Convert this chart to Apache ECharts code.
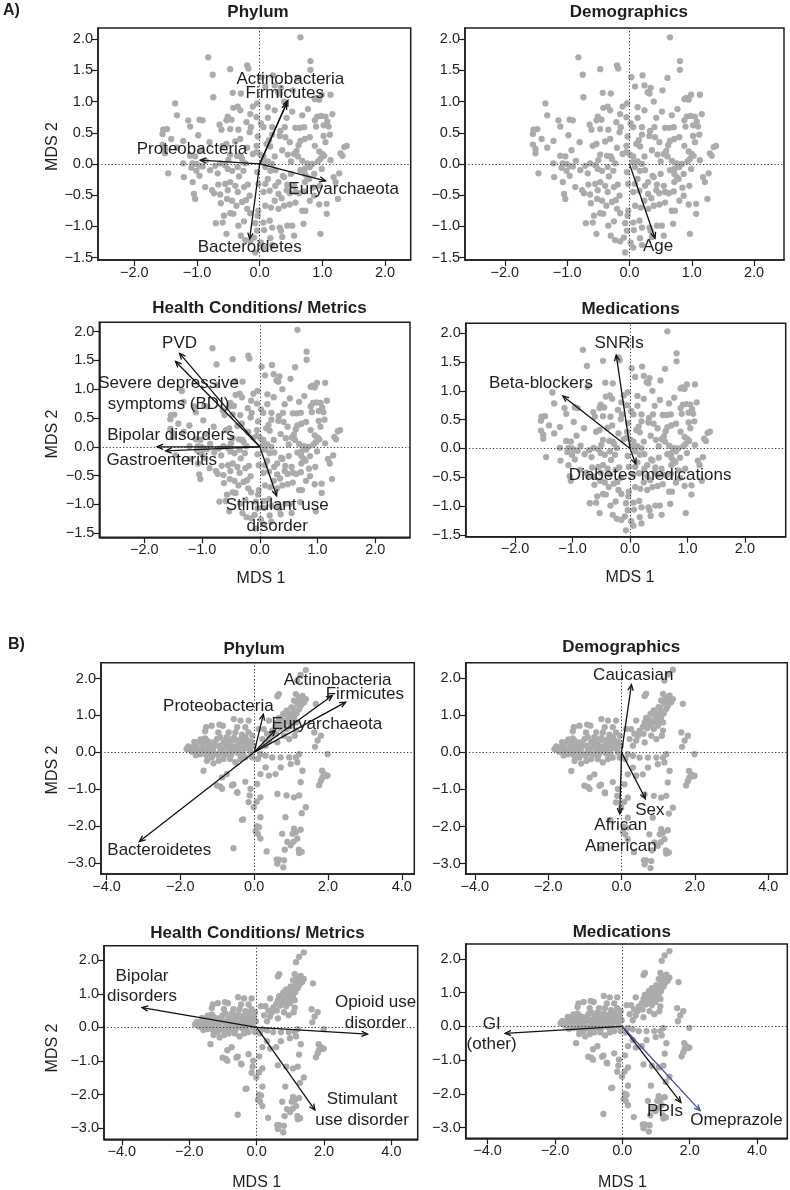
<!DOCTYPE html>
<html><head><meta charset="utf-8">
<script src="https://cdn.jsdelivr.net/npm/echarts@6/dist/echarts.min.js"></script>
<style>html,body{margin:0;padding:0;background:#fff}#c{width:790px;height:1190px}</style>
</head><body><div id="c"></div>
<script>
// ---------------- DATA ----------------
// Sample coordinates, group A (same points in all A panels)
const pointsA = [
[0.65,2.03],[-0.82,1.71],[0.81,1.65],[-0.20,1.58],[-0.18,1.53],[-0.47,1.52],[0.81,1.51],
[-0.75,1.43],[0.03,1.39],[0.21,1.42],[0.61,1.38],
[0.09,1.24],[0.24,1.26],[0.34,1.22],[0.29,1.15],[0.32,1.13],[0.53,1.18],[0.39,1.0],
[-0.43,1.14],[-0.30,1.13],[-0.74,1.07],[0.88,1.04],[0.99,1.11],[0.91,1.06],[1.13,1.11],[0.95,1.03],
[-1.35,0.97],[-0.04,0.97],[-0.11,0.92],[-0.42,0.90],[-0.35,0.92],[-0.31,0.86],[0.13,0.91],[0.77,0.88],[0.24,0.86],[0.52,0.84],
[-1.32,0.78],[-0.51,0.76],[-0.15,0.80],[-0.05,0.75],[0.43,0.74],[0.13,0.74],[0.92,0.76],[0.98,0.77],[1.05,0.76],[1.16,0.80],[0.68,0.78],
[-1.14,0.70],[-0.96,0.71],[-0.91,0.70],[-1.11,0.60],[-0.53,0.70],[-0.45,0.71],[-0.64,0.63],[-0.21,0.67],[-0.14,0.59],[-0.34,0.55],[0.02,0.65],[0.06,0.59],[0.20,0.59],[0.33,0.53],[0.40,0.59],[0.57,0.58],[0.64,0.58],[0.71,0.59],[0.88,0.70],[0.90,0.60],[1.02,0.62],[1.08,0.68],[1.10,0.60],
[-1.54,0.55],[-1.48,0.56],[-1.55,0.48],[-0.61,0.55],[-0.47,0.56],[-0.16,0.51],[-0.03,0.44],[0.20,0.47],[0.32,0.45],[0.41,0.43],[0.80,0.43],[1.02,0.45],[1.12,0.47],[-1.41,0.40],[-1.22,0.37],[-0.31,0.40],[-0.39,0.36],[0.65,0.37],[0.72,0.40],
[-1.55,0.31],[-1.51,0.24],[-1.32,0.26],[-0.80,0.35],[-0.59,0.29],[-0.53,0.32],[-0.20,0.26],[0.11,0.32],[0.48,0.35],[0.59,0.21],[0.88,0.29],[1.39,0.29],[1.35,0.27],[-0.05,0.29],[0.17,0.28],
[-1.51,0.17],[-0.93,0.22],[-1.11,0.13],[-1.03,0.12],[-0.47,0.15],[-0.36,0.13],[-0.30,0.12],[-0.11,0.16],[-0.05,0.19],[0.01,0.15],[0.06,0.12],[0.24,0.12],[0.36,0.22],[0.45,0.15],[0.55,0.16],[0.61,0.12],[0.95,0.20],[1.00,0.16],[1.03,0.13],[1.32,0.13],[1.29,0.17],
[-1.22,0.01],[-1.07,0.01],[-1.01,0.0],[-0.96,-0.03],[-0.91,-0.04],[-0.71,-0.03],[-0.63,0.01],[-0.50,0.06],[-0.55,-0.02],[-0.28,0.08],[-0.23,0.01],[0.05,0.03],[0.13,0.04],[0.20,0.0],[0.50,0.04],[0.68,0.05],[0.76,0.01],[0.84,0.0],[0.93,0.04],[0.97,0.08],[1.13,0.06],
[-1.46,-0.15],[-1.21,-0.21],[-1.09,-0.06],[-1.01,-0.11],[-0.96,-0.19],[-0.79,-0.10],[-0.67,-0.15],[-0.51,-0.08],[-0.44,-0.11],[-0.35,-0.05],[-0.26,-0.11],[-0.04,-0.13],[0.09,-0.05],[0.17,-0.11],[0.25,-0.10],[0.37,-0.19],[0.50,-0.16],[0.65,-0.10],[0.72,-0.08],[0.80,-0.05],[0.72,-0.16],[0.76,-0.21],[0.87,-0.16],[0.99,-0.08],[1.27,-0.15],[1.18,-0.21],
[-1.07,-0.29],[-0.87,-0.37],[-0.66,-0.33],[-0.55,-0.32],[-0.47,-0.29],[-0.39,-0.35],[-0.19,-0.33],[-0.02,-0.32],[0.09,-0.32],[0.13,-0.24],[0.25,-0.35],[0.30,-0.29],[0.39,-0.21],[0.44,-0.33],[0.55,-0.35],[0.72,-0.29],[0.79,-0.24],[0.96,-0.35],[1.21,-0.29],
[-1.05,-0.48],[-1.03,-0.56],[-0.76,-0.42],[-0.73,-0.47],[-0.63,-0.49],[-0.51,-0.42],[-0.35,-0.45],[-0.25,-0.37],[-0.16,-0.51],[0.06,-0.45],[0.16,-0.43],[0.30,-0.48],[0.43,-0.42],[0.48,-0.47],[0.57,-0.45],[0.63,-0.47],[0.71,-0.44],[0.80,-0.59],[0.87,-0.51],[1.07,-0.64],[1.25,-0.56],
[-0.52,-0.56],[-0.44,-0.59],[-0.37,-0.67],[-0.28,-0.61],[-0.47,-0.79],[-0.42,-0.80],[-0.57,-0.83],[-0.20,-0.72],[-0.15,-0.79],[-0.02,-0.75],[0.09,-0.67],[0.18,-0.70],[0.24,-0.59],[0.30,-0.72],[0.39,-0.67],[0.48,-0.65],[0.57,-0.62],[0.68,-0.75],[0.73,-0.75],[0.95,-0.65],[1.07,-0.80],
[-0.70,-0.95],[-0.59,-0.94],[-0.34,-0.99],[-0.25,-0.92],[-0.07,-0.95],[-0.03,-0.83],[0.06,-0.94],[0.16,-0.91],[0.20,-1.02],[0.32,-1.02],[0.44,-0.99],[0.52,-0.99],[0.70,-0.96],[0.07,-1.06],
[-0.53,-1.12],[-0.30,-1.15],[-0.23,-1.22],[-0.15,-1.24],[-0.09,-1.18],[-0.04,-1.07],[0.02,-1.26],[-0.07,-1.42],[0.17,-1.19],[0.34,-1.07],[0.36,-1.17],[0.55,-1.15],[0.97,-1.12],[0.06,-1.34],[0.20,-1.30],
[-0.98,0.46],[-0.86,0.05],[-0.33,-0.20],[0.35,-0.55],[0.62,0.30],[-0.62,-0.63],[0.15,0.38],[-0.22,-0.58],[0.85,-0.38],[1.05,0.35]
];
// Sample coordinates, group B
const pointsB = [
[1.40,2.23],[1.26,2.10],[1.17,1.94],
[0.67,1.58],[0.63,1.52],[1.13,1.58],[1.22,1.49],[1.31,1.53],[1.40,1.44],[1.35,1.35],[1.67,1.31],[1.08,1.40],[1.17,1.32],[1.01,1.22],[0.88,1.13],[0.95,1.04],[1.08,1.08],[1.22,1.17],[1.26,1.26],[0.79,1.04],[0.67,0.93],[0.76,0.87],[0.63,0.81],[0.85,0.81],[0.95,0.90],[1.08,0.95],[1.13,0.81],[0.72,0.72],[0.58,0.69],[0.49,0.59],[0.99,0.72],[0.88,0.63],[1.13,0.59],[1.10,0.45],[0.95,0.36],[0.81,0.45],[0.35,0.50],[0.40,0.32],[0.63,0.27],[0.31,0.18],[0.22,0.36],[0.26,0.63],[0.40,0.86],
[0.70,0.65],[0.92,0.95],[1.05,1.20],[1.20,1.35],[0.80,0.75],[1.00,0.85],[1.15,1.05],[0.60,0.50],[1.30,1.40],[0.45,0.45],
[-0.55,0.90],[-0.37,0.86],[-0.15,0.86],[0.13,0.63],[-0.24,0.68],[-0.46,0.68],[-0.85,0.72],[-0.94,0.75],[-1.15,0.72],[-1.30,0.68],[-1.33,0.57],[-0.97,0.54],[-0.69,0.54],[-0.51,0.54],[-0.33,0.48],[-0.15,0.54],[-0.05,0.45],
[1.63,0.54],[1.81,0.45],[1.72,0.32],[1.65,0.15],[1.99,-0.05],[1.90,-0.59],[1.85,-0.68],[1.99,-0.63],[1.81,-0.77],[1.76,-0.89],
[-1.83,0.09],[-1.74,0.14],[-1.65,0.05],[-1.60,0.18],[-1.51,0.27],[-1.51,0.09],[-1.46,-0.05],[-1.37,0.23],[-1.37,0.05],[-1.28,0.32],[-1.24,0.14],[-1.19,0.0],[-1.15,0.27],[-1.10,0.14],[-1.05,-0.05],[-1.01,0.36],[-0.96,0.18],[-0.92,0.05],[-0.83,0.27],[-0.78,0.14],[-0.74,-0.05],[-0.65,0.23],[-0.60,0.09],[-0.51,0.32],[-0.46,0.14],[-0.42,-0.03],[-0.33,0.27],[-0.28,0.09],[-0.19,0.32],[-0.15,0.15],[-0.10,0.0],[-0.92,0.41],[-0.74,0.41],[-0.55,0.39],[-0.37,0.36],[-0.24,0.41],
[-1.70,0.02],[-1.55,0.0],[-1.42,0.12],[-1.30,-0.08],[-1.20,0.20],[-1.12,0.05],[-0.98,-0.08],[-0.88,0.10],[-0.80,0.30],[-0.70,0.08],[-0.62,-0.06],[-0.55,0.15],[-0.40,0.22],[-0.30,-0.05],[-0.20,0.20],[-0.08,0.28],[-1.45,0.35],[-1.62,0.28],[-0.68,0.35],[-0.12,0.08],
[-1.78,0.16],[-1.58,-0.08],[-1.33,0.38],[-1.08,0.25],[-0.85,-0.02],[-0.72,0.20],[-0.48,0.02],[-0.35,0.12],[-0.02,0.18],[-1.25,0.06],
[-1.15,-0.14],[-1.28,-0.23],[-1.10,-0.30],[-1.37,-0.50],[-0.96,-0.23],[-0.83,-0.18],[-0.65,-0.18],[-0.51,-0.27],[-0.37,-0.18],[-0.24,-0.14],[-0.05,-0.14],[0.10,-0.18],[0.17,-0.05],[0.31,-0.09],[0.49,-0.14],[0.72,-0.14],[0.95,-0.14],[1.13,-0.14],[1.22,-0.05],[1.17,-0.27],[0.99,-0.32],[0.72,-0.41],[0.31,-0.41],[0.58,-0.59],[0.40,-0.63],[0.17,-0.59],
[-0.74,-0.59],[-0.87,-0.68],[-0.92,-0.93],[-0.56,-0.87],[-0.45,-1.10],[-0.24,-0.80],[-1.01,-0.90],[-0.87,-0.99],[-0.60,-0.90],[-0.46,-1.08],[-0.10,-0.99],[0.08,-0.86],[-0.12,-1.17],[-0.15,-1.35],[-0.01,-1.49],[0.17,-1.22],[0.63,-1.13],[0.88,-1.17],[1.08,-1.22],[1.22,-1.17],[1.26,-0.81],[1.31,-0.50],[1.40,-1.49],[1.29,-1.65],[0.85,-1.76],[0.17,-1.76],[0.13,-2.03],[0.10,-2.21],[0.17,-2.34],[0.76,-2.21],[1.04,-2.21],[1.17,-2.34],[0.90,-2.43],[1.08,-2.07],[0.99,-2.52],[1.22,-2.73],[1.29,-2.70],[0.67,-2.91],[0.63,-3.02],[0.81,-2.93],[1.26,-2.10],
[-0.56,-2.60],[-0.33,-1.83],[0.07,-1.34],[0.07,-2.0],[0.04,-2.15],[0.34,-2.69],[0.61,-2.91],[0.83,-2.64],[0.79,-3.12],[1.07,-2.42],[1.13,-2.17],[1.21,-2.64],[1.84,-0.50],[1.95,-0.64],[-0.30,-1.82]
];

// Arrow tips (name, MDS1, MDS2) and label anchors (text, MDS1, MDS2) per panel
const arrowsA1 = [["Actinobacteria",0.45,1.02],["Firmicutes",0.43,0.97],["Proteobacteria",-0.95,0.06],["Euryarchaeota",1.05,-0.27],["Bacteroidetes",-0.16,-1.20]];
const labelsA1 = [["Actinobacteria",0.49,1.36],["Firmicutes",0.40,1.13],["Proteobacteria",-1.08,0.23],["Euryarchaeota",1.34,-0.40],["Bacteroidetes",-0.16,-1.33]];
const arrowsA2 = [["Age",0.41,-1.19]];
const labelsA2 = [["Age",0.46,-1.32]];
const arrowsA3 = [["PVD",-1.39,1.62],["Severe depressive symptoms (BDI)",-1.46,1.48],["Bipolar disorders",-1.78,0.0],["Gastroenteritis",-1.63,-0.07],["Stimulant use disorder",0.29,-0.85]];
const labelsA3 = [["PVD",-1.39,1.80],["Severe depressive\nsymptoms (BDI)",-1.58,0.92],["Bipolar disorders",-1.54,0.20],["Gastroenteritis",-1.70,-0.23],["Stimulant use\ndisorder",0.30,-1.20]];
const arrowsA4 = [["SNRIs",-0.24,1.62],["Beta-blockers",-1.17,0.91],["Diabetes medications",0.10,-0.27]];
const labelsA4 = [["SNRIs",-0.19,1.83],["Beta-blockers",-1.55,1.13],["Diabetes medications",0.35,-0.47]];
const arrowsB1 = [["Actinobacteria",2.12,1.54],["Firmicutes",2.48,1.36],["Proteobacteria",0.25,1.03],["Euryarchaeota",0.57,0.60],["Bacteroidetes",-3.11,-2.42]];
const labelsB1 = [["Actinobacteria",2.26,1.94],["Firmicutes",3.0,1.57],["Proteobacteria",-0.97,1.26],["Euryarchaeota",1.97,0.77],["Bacteroidetes",-2.57,-2.67]];
const arrowsB2 = [["Caucasian",0.27,1.83],["Sex",0.65,-1.25],["African American",-0.05,-1.66]];
const labelsB2 = [["Caucasian",0.32,2.08],["Sex",0.77,-1.55],["African\nAmerican",-0.02,-2.25]];
const arrowsB3 = [["Bipolar disorders",-3.40,0.59],["Opioid use disorder",3.29,-0.20],["Stimulant use disorder",1.73,-2.46]];
const labelsB3 = [["Bipolar\ndisorders",-3.40,1.22],["Opioid use\ndisorder",3.53,0.44],["Stimulant\nuse disorder",3.13,-2.46]];
const arrowsB4 = [["GI (other)",-3.48,-0.21],["PPIs",1.74,-2.26],["Omeprazole",2.31,-2.50]];
const labelsB4 = [["GI\n(other)",-3.88,-0.24],["PPIs",1.27,-2.53],["Omeprazole",3.39,-2.78]];

// Tick values
const ticksAx = [-2,-1,0,1,2];
const ticksAy = [-1.5,-1,-0.5,0,0.5,1,1.5,2];
const ticksBx = [-4,-2,0,2,4];
const ticksBy = [-3,-2,-1,0,1,2];

// Panel titles
const titles = ["Phylum","Demographics","Health Conditions/ Metrics","Medications","Phylum","Demographics","Health Conditions/ Metrics","Medications"];

// ---------------- LAYOUT ----------------
const FONT = '"Liberation Sans", Arial, Helvetica, sans-serif';
const INK = '#1e1e1e';
const panels = [
  {l:98,   t:28,    r:410.7, b:260,    x:[-2.58,2.41], y:[-1.54,2.18], pts:pointsA, ar:arrowsA1, lb:labelsA1, xt:ticksAx, yt:ticksAy, tx:258,   ty:12.5},
  {l:465,  t:28,    r:784,   b:260,    x:[-2.64,2.48], y:[-1.54,2.18], pts:pointsA, ar:arrowsA2, lb:labelsA2, xt:ticksAx, yt:ticksAy, tx:628.8, ty:12.5},
  {l:99.3, t:322.3, r:410,   b:537.3,  x:[-2.78,2.60], y:[-1.57,2.16], pts:pointsA, ar:arrowsA3, lb:labelsA3, xt:ticksAx, yt:ticksAy, tx:259.5, ty:308},
  {l:465.7,t:323.3, r:785.7, b:536.7,  x:[-2.86,2.71], y:[-1.53,2.17], pts:pointsA, ar:arrowsA4, lb:labelsA4, xt:ticksAx, yt:ticksAy, tx:630.5, ty:309.5},
  {l:101,  t:662.7, r:414.3, b:874,    x:[-4.15,4.34], y:[-3.30,2.43], pts:pointsB, ar:arrowsB1, lb:labelsB1, xt:ticksBx, yt:ticksBy, tx:254.2, ty:649},
  {l:465.7,t:662.7, r:787.3, b:874,    x:[-4.25,4.52], y:[-3.28,2.42], pts:pointsB, ar:arrowsB2, lb:labelsB2, xt:ticksBx, yt:ticksBy, tx:621.2, ty:647.5},
  {l:104,  t:945.7, r:417.7, b:1139.3, x:[-4.53,4.78], y:[-3.33,2.43], pts:pointsB, ar:arrowsB3, lb:labelsB3, xt:ticksBx, yt:ticksBy, tx:257.5, ty:933},
  {l:465.7,t:944,   r:787.3, b:1138.3, x:[-4.65,4.90], y:[-3.32,2.44], pts:pointsB, ar:arrowsB4, lb:labelsB4, xt:ticksBx, yt:ticksBy, tx:621.8, ty:932}
];

const fmt = v => (v < 0 ? '\u2212' : '') + Math.abs(v).toFixed(1);

const grid = [], xAxis = [], yAxis = [], series = [], graphic = [];
panels.forEach((p, i) => {
  grid.push({left:p.l, top:p.t, width:p.r-p.l, height:p.b-p.t, show:true, borderColor:INK, borderWidth:1.5, backgroundColor:'transparent', containLabel:false, outerBoundsMode:'none'});
  const axCommon = {
    type:'value', gridIndex:i, splitLine:{show:false},
    axisLine:{show:true, onZero:false, lineStyle:{color:INK, width:1.5}},
    axisTick:{show:true, inside:false, length:6, lineStyle:{color:INK, width:1.2}},
    axisLabel:{color:INK, fontSize:14.5, fontFamily:FONT, margin:5, formatter:fmt}
  };
  xAxis.push(Object.assign({}, axCommon, {min:p.x[0], max:p.x[1],
    axisTick:Object.assign({}, axCommon.axisTick, {customValues:p.xt}),
    axisLabel:Object.assign({}, axCommon.axisLabel, {customValues:p.xt})}));
  yAxis.push(Object.assign({}, axCommon, {min:p.y[0], max:p.y[1],
    axisTick:Object.assign({}, axCommon.axisTick, {customValues:p.yt}),
    axisLabel:Object.assign({}, axCommon.axisLabel, {customValues:p.yt})}));

  series.push({
    type:'scatter', xAxisIndex:i, yAxisIndex:i, data:p.pts, symbolSize:6.3, silent:true, z:2,
    itemStyle:{color:'#ababab', opacity:1},
    markLine:{silent:true, symbol:['none','none'], label:{show:false}, animation:false,
      lineStyle:{color:'#333', width:1, type:[1.2,2.2]},
      data:[{xAxis:0},{yAxis:0}]}
  });
  const arrows = p.ar;
  series.push({
    type:'custom', xAxisIndex:i, yAxisIndex:i, z:5, silent:true,
    encode:{x:[0,2], y:[1,3]},
    data: arrows.map(a => [0, 0, a[1], a[2]]),
    renderItem:(params, api) => {
      const p0 = api.coord([api.value(0), api.value(1)]);
      const p1 = api.coord([api.value(2), api.value(3)]);
      const ang = Math.atan2(p1[1]-p0[1], p1[0]-p0[0]);
      const L = 6.5, a = Math.PI/7.5;
      const h1 = [p1[0]-L*Math.cos(ang-a), p1[1]-L*Math.sin(ang-a)];
      const h2 = [p1[0]-L*Math.cos(ang+a), p1[1]-L*Math.sin(ang+a)];
      const col = arrows[params.dataIndex][0] === 'Omeprazole' ? '#3b4fa3' : '#111';
      return {type:'group', children:[
        {type:'line', shape:{x1:p0[0], y1:p0[1], x2:p1[0], y2:p1[1]}, style:{stroke:col, lineWidth:1.3}},
        {type:'polyline', shape:{points:[h1, p1, h2]}, style:{stroke:col, fill:null, lineWidth:1.3}}
      ]};
    }
  });
  const labels = p.lb;
  series.push({
    type:'custom', xAxisIndex:i, yAxisIndex:i, z:6, silent:true,
    data: labels.map(l => [l[1], l[2]]),
    renderItem:(params, api) => {
      const c = api.coord([api.value(0), api.value(1)]);
      return {type:'text', x:c[0], y:c[1], style:{text:labels[params.dataIndex][0], align:'center', verticalAlign:'middle',
        font:'17px ' + FONT, fill:INK, lineHeight:20.5}};
    }
  });
  graphic.push({type:'text', x:p.tx, y:p.ty, style:{text:titles[i], align:'center', verticalAlign:'middle', font:'bold 17px ' + FONT, fill:INK}});
});

// Panel letters and axis titles
graphic.push({type:'text', x:3, y:10.5, style:{text:'A)', align:'left', verticalAlign:'middle', font:'bold 16px ' + FONT, fill:INK}});
graphic.push({type:'text', x:8, y:645, style:{text:'B)', align:'left', verticalAlign:'middle', font:'bold 16px ' + FONT, fill:INK}});
[[52.5,146.5],[52.5,434],[52.5,770],[52.5,1048]].forEach(q => {
  graphic.push({type:'text', x:q[0], y:q[1], rotation:Math.PI/2, style:{text:'MDS 2', align:'center', verticalAlign:'middle', font:'16px ' + FONT, fill:INK}});
});
[[261,579],[630,577.5],[256.7,1182.3],[622.5,1182.3]].forEach(q => {
  graphic.push({type:'text', x:q[0], y:q[1], style:{text:'MDS 1', align:'center', verticalAlign:'middle', font:'16px ' + FONT, fill:INK}});
});

const chart = echarts.init(document.getElementById('c'), null, {renderer:'canvas'});
chart.setOption({animation:false, backgroundColor:'#fff', grid, xAxis, yAxis, series, graphic});
</script></body></html>
